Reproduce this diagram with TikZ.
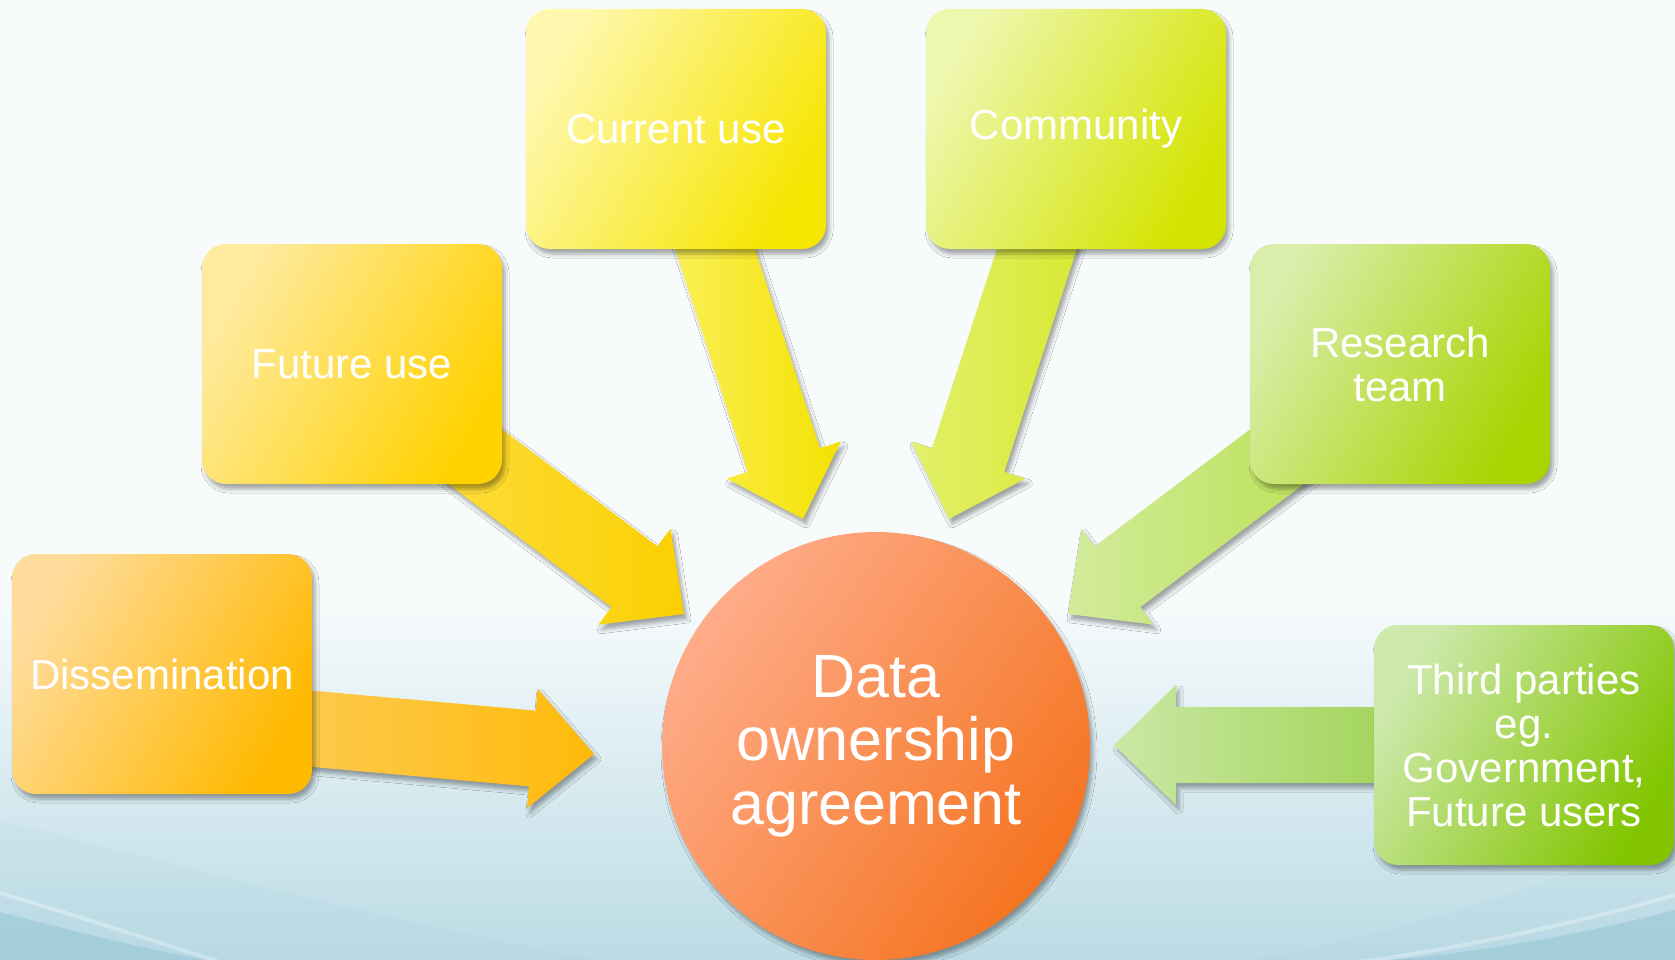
\documentclass[tikz,border=0pt]{standalone}
\usepackage{fontspec}
\setmainfont{Liberation Sans}
\usetikzlibrary{calc,shadows.blur}

% page background
\definecolor{bgtop}{HTML}{F7FBFC}
\definecolor{bgbot}{HTML}{BBDBE5}
\definecolor{bgdeep}{HTML}{8CC1D1}
% card colours: light / saturated
\definecolor{disL}{HTML}{FFDC9C}\definecolor{disD}{HTML}{FFB900}
\definecolor{futL}{HTML}{FFEAA0}\definecolor{futD}{HTML}{FFD200}
\definecolor{curL}{HTML}{FFF8AE}\definecolor{curD}{HTML}{F6E500}
\definecolor{comL}{HTML}{EEF7AE}\definecolor{comD}{HTML}{D4E400}
\definecolor{resL}{HTML}{D8EEAA}\definecolor{resD}{HTML}{A8D400}
\definecolor{thiL}{HTML}{CDE9AC}\definecolor{thiD}{HTML}{82C500}
% arrow colours: left / right
\definecolor{adisL}{HTML}{FCCA50}\definecolor{adisD}{HTML}{FFBA0A}
\definecolor{afutL}{HTML}{FFE255}\definecolor{afutD}{HTML}{FAD000}
\definecolor{acurL}{HTML}{FCF268}\definecolor{acurD}{HTML}{F4E200}
\definecolor{acomL}{HTML}{E2F06A}\definecolor{acomD}{HTML}{D6E72A}
\definecolor{aresL}{HTML}{D2EB9C}\definecolor{aresD}{HTML}{B2DE3C}
\definecolor{athiL}{HTML}{CAE8A4}\definecolor{athiD}{HTML}{8ECB36}
% hub colours
\definecolor{hubL}{HTML}{FFAC8A}\definecolor{hubD}{HTML}{F57420}

\tikzset{
  softshadow/.style={blur shadow={shadow xshift=3pt, shadow yshift=-5pt,
      shadow blur radius=4pt, shadow opacity=35}},
  card/.style={rectangle, rounded corners=24pt, minimum width=300pt,
      minimum height=240pt, inner sep=0pt, align=center, text=white,
      font=\fontsize{42}{44}\selectfont, softshadow},
  tint/.style 2 args={top color=#1, bottom color=#2, shading angle=60},
  hub/.style={circle, minimum size=428pt, inner sep=0pt, align=center,
      text=white, font=\fontsize{61}{63.5}\selectfont, softshadow,
      top color=hubL, bottom color=hubD, shading angle=55}
}

% block arrow from a node (or coordinate) #1 to a tip coordinate #2,
% shaded from #3 (left) to #4 (right)
\newcommand\flowarrow[4]{%
  \coordinate (#2-hb) at ($(#2)!62pt!(#1)$);
  \shade[softshadow, left color=#3, right color=#4]
    ($(#1)!38pt!90:(#2)$) -- ($(#2-hb)!38pt!90:(#2)$) -- ($(#2-hb)!60pt!90:(#2)$)
    -- (#2) -- ($(#2-hb)!60pt!-90:(#2)$) -- ($(#2-hb)!38pt!-90:(#2)$)
    -- ($(#1)!38pt!-90:(#2)$) -- cycle;
}

\begin{document}
\begin{tikzpicture}[x=1pt,y=1pt]

\useasboundingbox (0,0) rectangle (1675,-960);

% background wash
\fill[bgtop] (0,0) rectangle (1675,-960);
\shade[top color=bgtop, bottom color=bgbot] (0,-600) rectangle (1675,-960);
% corner swooshes
\fill[bgdeep, opacity=0.08] (0,-820) .. controls (200,-870) and (400,-925) .. (600,-960) -- (0,-960) -- cycle;
\fill[bgdeep, opacity=0.45] (0,-912) .. controls (70,-930) and (140,-948) .. (205,-960) -- (0,-960) -- cycle;
\draw[white, opacity=0.3, line width=4pt] (0,-893) .. controls (75,-915) and (150,-940) .. (220,-962);
\fill[bgdeep, opacity=0.08] (1675,-830) .. controls (1560,-880) and (1420,-930) .. (1250,-960) -- (1675,-960) -- cycle;
\fill[bgdeep, opacity=0.45] (1675,-910) .. controls (1580,-935) and (1480,-952) .. (1390,-960) -- (1675,-960) -- cycle;
\draw[white, opacity=0.3, line width=4pt] (1675,-895) .. controls (1570,-925) and (1460,-948) .. (1360,-962);

% card positions
\coordinate (dis) at (162,-674);
\coordinate (fut) at (352,-364);
\coordinate (cur) at (676,-129);
\coordinate (com) at (1076,-129);
\coordinate (res) at (1400,-364);
\coordinate (thi) at (1524,-745);

% arrow tips and the dissemination arrow's start
\coordinate (disOut) at ($(dis)+(130,-53)$);
\coordinate (tipDis) at (594,-754);
\coordinate (tipFut) at (684,-614);
\coordinate (tipCur) at (803,-519);
\coordinate (tipCom) at (949,-519);
\coordinate (tipRes) at (1068,-614);
\coordinate (tipThi) at (1114,-745);

% arrows, behind the cards
\flowarrow{disOut}{tipDis}{adisL}{adisD}
\flowarrow{fut}{tipFut}{afutL}{afutD}
\flowarrow{cur}{tipCur}{acurL}{acurD}
\flowarrow{com}{tipCom}{acomL}{acomD}
\flowarrow{res}{tipRes}{aresL}{aresD}
\flowarrow{thi}{tipThi}{athiL}{athiD}

% cards on top of the arrow shafts
\node[card, tint={disL}{disD}] (disBox) at (dis) {Dissemination};
\node[card, tint={futL}{futD}] (futBox) at (fut) {Future use};
\node[card, tint={curL}{curD}] (curBox) at (cur) {Current use};
\node[card, tint={comL}{comD}] (comBox) at (com) {Community};
\node[card, tint={resL}{resD}] (resBox) at (res) {Research\\team};
\node[card, tint={thiL}{thiD}] (thiBox) at (thi) {Third parties\\eg.\\Government,\\Future users};

% central hub
\node[hub] (core) at (876,-746) {Data\\ownership\\agreement};

\end{tikzpicture}
\end{document}
